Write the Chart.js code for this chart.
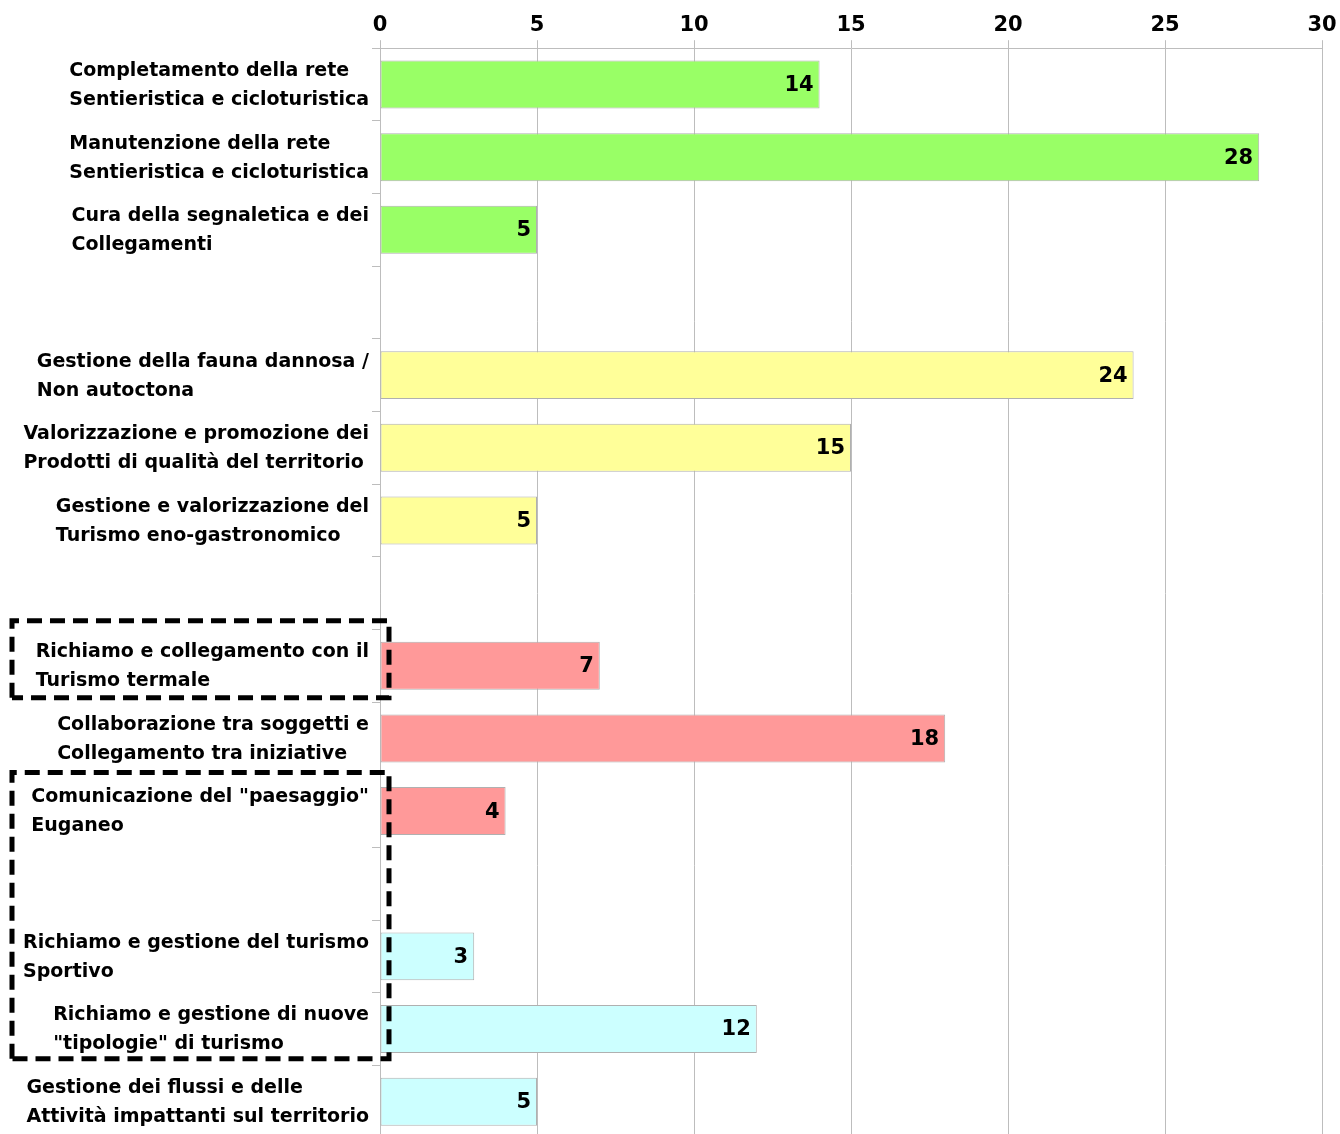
<!DOCTYPE html>
<html>
<head>
<meta charset="utf-8">
<script src="https://cdn.jsdelivr.net/npm/chart.js@4.4.1/dist/chart.umd.min.js"></script>
<style>
  html, body { margin: 0; padding: 0; background: #fff; overflow: hidden; }
  #wrap { width: 1340px; height: 1138px; }
</style>
</head>
<body>
<div id="wrap"><canvas id="chart" width="1340" height="1138"></canvas></div>
<script>
// Categories (blank entries are the gaps between groups)
const categories = [
    ['Completamento della rete', 'Sentieristica e cicloturistica'],
    ['Manutenzione della rete', 'Sentieristica e cicloturistica'],
    ['Cura della segnaletica e dei', 'Collegamenti'],
    '',
    ['Gestione della fauna dannosa /', 'Non autoctona'],
    ['Valorizzazione e promozione dei', 'Prodotti di qualità del territorio'],
    ['Gestione e valorizzazione del', 'Turismo eno-gastronomico'],
    '',
    ['Richiamo e collegamento con il', 'Turismo termale'],
    ['Collaborazione tra soggetti e', 'Collegamento tra iniziative'],
    ['Comunicazione del "paesaggio"', 'Euganeo'],
    '',
    ['Richiamo e gestione del turismo', 'Sportivo'],
    ['Richiamo e gestione di nuove', '"tipologie" di turismo'],
    ['Gestione dei flussi e delle', 'Attività impattanti sul territorio']
];
const values = [14, 28, 5, null, 24, 15, 5, null, 7, 18, 4, null, 3, 12, 5];
const groupColors = ['#99ff66', '#99ff66', '#99ff66', null,
                     '#ffff99', '#ffff99', '#ffff99', null,
                     '#ff9999', '#ff9999', '#ff9999', null,
                     '#ccffff', '#ccffff', '#ccffff'];
const xTicks = [0, 5, 10, 15, 20, 25, 30];
// dashed boxes: [first index, last index]
const highlighted = [[8, 8], [10, 13]];

const FONT = 'DejaVu Sans';
const LABEL_SIZE = 19;

// draws the category labels: lines left aligned, block right aligned at the axis
const labelPlugin = {
    id: 'labels',
    afterDraw(chart) {
        const ctx = chart.ctx;
        const y = chart.scales.y;
        const right = chart.chartArea.left - 11;
        ctx.save();
        ctx.font = 'bold ' + LABEL_SIZE + 'px "' + FONT + '"';
        ctx.fillStyle = '#000';
        ctx.textBaseline = 'middle';
        ctx.textAlign = 'left';
        categories.forEach(function(lab, i) {
            if (!lab) return;
            const lines = Array.isArray(lab) ? lab : [lab];
            const w = Math.max.apply(null, lines.map(l => ctx.measureText(l).width));
            const cy = y.getPixelForValue(i) + 1;
            const lh = 29;
            lines.forEach(function(l, k) {
                ctx.fillText(l, right - w, cy + (k - (lines.length - 1) / 2) * lh);
            });
        });
        ctx.restore();
    }
};

// value labels inside the bar ends
const valuePlugin = {
    id: 'values',
    afterDatasetsDraw(chart) {
        const ctx = chart.ctx;
        const meta = chart.getDatasetMeta(0);
        ctx.save();
        ctx.font = 'bold 21px "' + FONT + '"';
        ctx.fillStyle = '#000';
        ctx.textAlign = 'right';
        ctx.textBaseline = 'middle';
        meta.data.forEach(function(bar, i) {
            if (values[i] == null) return;
            ctx.fillText(String(values[i]), bar.x - 6, bar.y + 1);
        });
        ctx.restore();
    }
};

// dashed boxes round some labels
const boxPlugin = {
    id: 'boxes',
    afterDraw(chart) {
        const ctx = chart.ctx;
        const y = chart.scales.y;
        const x = chart.scales.x;
        const row = y.getPixelForValue(1) - y.getPixelForValue(0);
        ctx.save();
        ctx.strokeStyle = '#000';
        ctx.lineWidth = 5;
        ctx.setLineDash([15, 8]);
        highlighted.forEach(function(h, n) {
            const top = y.getPixelForValue(h[0]) - row * (n === 0 ? 0.62 : 0.53);
            const bottom = y.getPixelForValue(h[1]) + row * (n === 0 ? 0.44 : 0.41);
            const left = 12;
            const rightX = x.getPixelForValue(0) + 9;
            ctx.beginPath();
            ctx.moveTo(left, bottom);
            ctx.lineTo(left, top);
            ctx.lineTo(rightX, top);
            ctx.lineTo(rightX, bottom);
            ctx.lineTo(left, bottom);
            ctx.stroke();
        });
        ctx.restore();
    }
};

new Chart(document.getElementById('chart'), {
    type: 'bar',
    data: {
        labels: categories,
        datasets: [{
            data: values,
            backgroundColor: groupColors,
            borderColor: '#b0b0b0',
            borderWidth: 1,
            borderSkipped: false,
            barPercentage: 0.66,
            categoryPercentage: 1
        }]
    },
    options: {
        indexAxis: 'y',
        responsive: false,
        animation: false,
        layout: { padding: { top: 11, right: 18, left: 0, bottom: 0 } },
        plugins: {
            legend: { display: false },
            tooltip: { enabled: false }
        },
        scales: {
            x: {
                position: 'top',
                min: 0,
                max: 30,
                afterBuildTicks(scale) {
                    scale.ticks = xTicks.map(v => ({ value: v }));
                },
                ticks: {
                    color: '#000',
                    font: { family: FONT, size: 21, weight: 'bold' },
                    padding: 2
                },
                grid: { color: '#bdbdbd', tickLength: 8 },
                border: { color: '#bdbdbd' }
            },
            y: {
                afterFit(scale) { scale.width = 380; },
                ticks: { display: false },
                grid: { drawOnChartArea: false, color: '#bdbdbd', tickLength: 8, offset: true },
                border: { color: '#bdbdbd' }
            }
        }
    },
    plugins: [valuePlugin, labelPlugin, boxPlugin]
});
</script>
</body>
</html>
